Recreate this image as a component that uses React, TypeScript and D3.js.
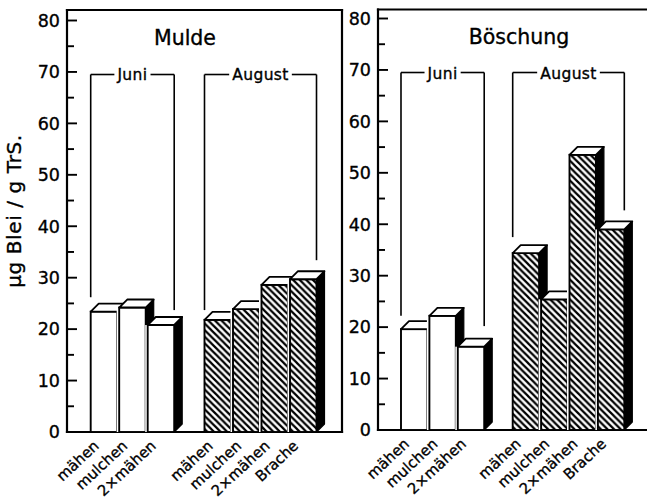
import React, { useEffect, useRef } from "react";
import * as d3 from "d3";

// ---- data ----
const panelTitles = ["Mulde", "Böschung"];
const months = ["Juni", "August"];
const juniTreatments = ["mähen", "mulchen", "2×mähen"];
const augustTreatments = ["mähen", "mulchen", "2×mähen", "Brache"];
const muldeJuni = [23.4, 24.2, 20.8];
const muldeAugust = [21.8, 23.9, 28.6, 29.7];
const boeschungJuni = [19.6, 22.2, 16.2];
const boeschungAugust = [34.4, 25.4, 53.5, 39.0];
// bracket heights (top, and where the left / right legs end)
const bracketTop = 69.5;
const muldeBracketEnds = [
  [26.2, 23.7],
  [23.7, 33.4],
];
const boeschungBracketEnds = [
  [22.2, 20.2],
  [37.5, 42.7],
];
const yMajorTicks = [0, 10, 20, 30, 40, 50, 60, 70, 80];
const yMinorTicks = [5, 15, 25, 35, 45, 55, 65, 75];
const yAxisLabel = "µg Blei / g TrS.";

const FONT = "'DejaVu Sans', sans-serif";

export default function App() {
  const ref = useRef<SVGSVGElement>(null);

  useEffect(() => {
    document.body.style.margin = "0";
    const svg = d3.select(ref.current as SVGSVGElement);
    svg.selectAll("*").remove();

    const defs = svg.append("defs");
    const pat = defs
      .append("pattern")
      .attr("id", "hatch")
      .attr("patternUnits", "userSpaceOnUse")
      .attr("width", 6.6)
      .attr("height", 6.6);
    pat.append("rect").attr("width", 6.6).attr("height", 6.6).attr("fill", "#fff");
    pat
      .append("path")
      .attr("d", "M-1,-1 L7.6,7.6 M-2,4.6 L2,8.6 M4.6,-2 L8.6,2")
      .attr("stroke", "#000")
      .attr("stroke-width", 2.2);

    svg.append("rect").attr("width", 647).attr("height", 503).attr("fill", "#fff");

    const panels = [
      {
        title: panelTitles[0],
        groups: [muldeJuni, muldeAugust],
        ends: muldeBracketEnds,
        axisX: 67,
        top: 10,
        y0: 432,
        right: 342,
        frameRight: true,
        titleX: 185,
        titleY: 45,
        groupStart: [89.7, 203.5],
        step: 28.5,
        monthY: 79.5,
      },
      {
        title: panelTitles[1],
        groups: [boeschungJuni, boeschungAugust],
        ends: boeschungBracketEnds,
        axisX: 378,
        top: 9.5,
        y0: 430,
        right: 647,
        frameRight: false,
        titleX: 519,
        titleY: 44,
        groupStart: [400, 511.7],
        step: 28.4,
        monthY: 78.5,
      },
    ];
    const treatmentLists = [juniTreatments, augustTreatments];
    const dx = 8;
    const dy = 8;

    const txt = (sel: any) =>
      sel
        .attr("font-family", FONT)
        .attr("fill", "#000")
        .attr("stroke", "#000")
        .attr("stroke-width", 0.35);

    panels.forEach((p) => {
      const g = svg.append("g");
      const y = d3.scaleLinear().domain([0, 80]).range([p.y0, p.y0 - 411.5]);

      // frame
      const frame = g
        .append("g")
        .attr("stroke", "#000")
        .attr("stroke-width", 2.2)
        .attr("stroke-linecap", "square")
        .attr("fill", "none");
      frame.append("line").attr("x1", p.axisX).attr("x2", p.axisX).attr("y1", p.top).attr("y2", p.y0);
      frame.append("line").attr("x1", p.axisX).attr("x2", p.right).attr("y1", p.top).attr("y2", p.top);
      frame.append("line").attr("x1", p.axisX).attr("x2", p.right).attr("y1", p.y0).attr("y2", p.y0);
      if (p.frameRight)
        frame.append("line").attr("x1", p.right).attr("x2", p.right).attr("y1", p.top).attr("y2", p.y0);

      // ticks
      g.selectAll(".maj")
        .data(yMajorTicks)
        .join("line")
        .attr("x1", p.axisX)
        .attr("x2", p.axisX + 10)
        .attr("y1", (d) => y(d))
        .attr("y2", (d) => y(d))
        .attr("stroke", "#000")
        .attr("stroke-width", 1.9);
      g.selectAll(".min")
        .data(yMinorTicks)
        .join("line")
        .attr("x1", p.axisX)
        .attr("x2", p.axisX + 7)
        .attr("y1", (d) => y(d))
        .attr("y2", (d) => y(d))
        .attr("stroke", "#000")
        .attr("stroke-width", 1.9);
      g.selectAll(".tl")
        .data(yMajorTicks)
        .join("text")
        .attr("x", p.axisX - 7)
        .attr("y", (d) => y(d))
        .attr("dy", "0.36em")
        .attr("text-anchor", "end")
        .attr("font-size", 17.5)
        .call(txt)
        .text((d) => String(d));

      // title
      g.append("text")
        .attr("x", p.titleX)
        .attr("y", p.titleY)
        .attr("text-anchor", "middle")
        .attr("font-size", 20.5)
        .call(txt)
        .text(p.title);

      p.groups.forEach((vals, gi) => {
        const names = treatmentLists[gi];
        const x = d3
          .scaleBand<string>()
          .domain(names)
          .range([p.groupStart[gi], p.groupStart[gi] + p.step * names.length])
          .paddingInner(0.07)
          .paddingOuter(0.035);
        const bw = x.bandwidth();
        const hatched = gi === 1;

        // bracket
        const bx1 = x(names[0]) as number;
        const bx2 = (x(names[names.length - 1]) as number) + bw;
        const byTop = y(bracketTop);
        const br = g
          .append("g")
          .attr("stroke", "#000")
          .attr("stroke-width", 1.6)
          .attr("fill", "none");
        br.append("line").attr("x1", bx1).attr("x2", bx1).attr("y1", byTop).attr("y2", y(p.ends[gi][0]));
        br.append("line").attr("x1", bx2).attr("x2", bx2).attr("y1", byTop).attr("y2", y(p.ends[gi][1]));
        const cx = (bx1 + bx2) / 2;
        const mt = g
          .append("text")
          .attr("x", cx)
          .attr("y", p.monthY)
          .attr("text-anchor", "middle")
          .attr("font-size", 15.5)
          .attr("letter-spacing", 0.4)
          .call(txt)
          .text(months[gi]);
        const tw = (mt.node() as SVGTextElement).getComputedTextLength();
        br.append("line").attr("x1", bx1).attr("x2", cx - tw / 2 - 3).attr("y1", byTop).attr("y2", byTop);
        br.append("line").attr("x1", cx + tw / 2 + 3).attr("x2", bx2).attr("y1", byTop).attr("y2", byTop);

        // bars (left to right, so later fronts cover earlier side faces)
        names.forEach((name, i) => {
          const v = vals[i];
          const x0 = x(name) as number;
          const yt = y(v);
          const bars = g.append("g");
          if (i > 0) {
            const prevRight = (x(names[i - 1]) as number) + bw;
            bars
              .append("rect")
              .attr("x", prevRight - 0.5)
              .attr("y", yt)
              .attr("width", x0 - prevRight + 1)
              .attr("height", p.y0 - yt)
              .attr("fill", "#fff");
          }
          bars
            .append("polygon")
            .attr(
              "points",
              [
                [x0 + bw, yt],
                [x0 + bw + dx, yt - dy],
                [x0 + bw + dx, p.y0 - dy],
                [x0 + bw, p.y0],
              ]
                .map((q) => q.join(","))
                .join(" ")
            )
            .attr("fill", "#000")
            .attr("stroke", "#000")
            .attr("stroke-width", 1.2)
            .attr("stroke-linejoin", "round");
          bars
            .append("rect")
            .attr("x", x0)
            .attr("y", yt)
            .attr("width", bw)
            .attr("height", p.y0 - yt)
            .attr("fill", hatched ? "url(#hatch)" : "#fff")
            .attr("stroke", "#000")
            .attr("stroke-width", 1.9);
          bars
            .append("polygon")
            .attr(
              "points",
              [
                [x0, yt],
                [x0 + dx, yt - dy],
                [x0 + bw + dx, yt - dy],
                [x0 + bw, yt],
              ]
                .map((q) => q.join(","))
                .join(" ")
            )
            .attr("fill", "#fff")
            .attr("stroke", "#000")
            .attr("stroke-width", 1.8)
            .attr("stroke-linejoin", "round");

          // category label
          const lx = x0 + bw / 2 - 4;
          const ly = p.y0 + 15;
          g.append("text")
            .attr("transform", `translate(${lx},${ly}) rotate(-43)`)
            .attr("text-anchor", "end")
            .attr("font-size", 14.8)
            .call(txt)
            .text(name);
        });
      });
    });

    // y axis title
    svg
      .append("text")
      .attr("transform", "translate(21,211) rotate(-90)")
      .attr("text-anchor", "middle")
      .attr("font-size", 20)
      .attr("letter-spacing", 0.6)
      .call(txt)
      .text(yAxisLabel);
  }, []);

  return <svg ref={ref} width={647} height={503} style={{ display: "block", background: "#fff" }} />;
}
